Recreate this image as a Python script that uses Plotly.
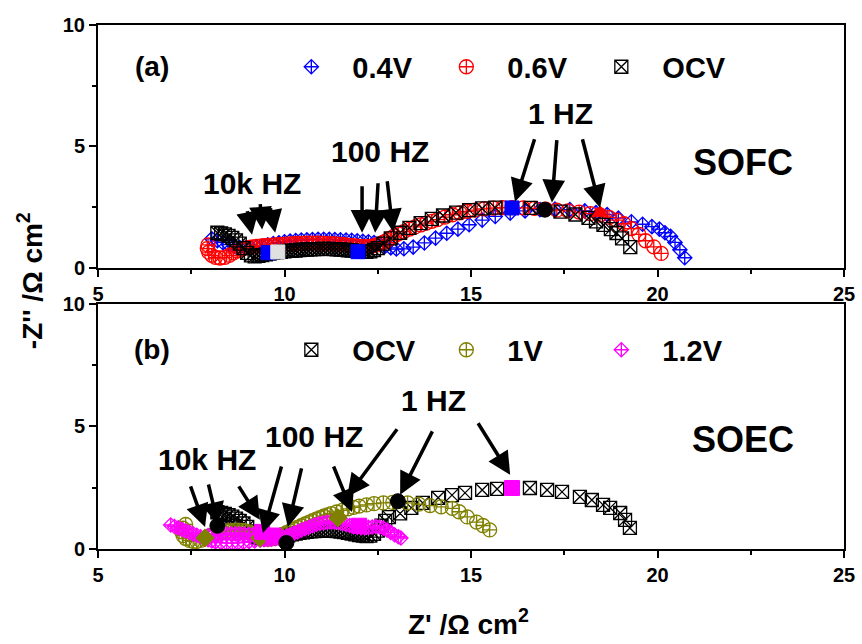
import plotly.graph_objects as go

# ---------------- data ----------------
# Panel (a) SOFC
ocv_a_x = [8.2, 8.3, 8.4, 8.5, 8.6, 8.7, 8.8, 8.9, 9.0, 9.1, 9.2, 9.3, 9.4, 9.5, 9.6, 9.7, 9.8, 9.9, 10.0, 10.1,
           10.2, 10.3, 10.4, 10.5, 10.6, 10.7, 10.8, 10.9, 11.0, 11.1, 11.2, 11.3, 11.4, 11.5, 11.6, 11.7, 11.8,
           11.9, 12.0, 12.1, 12.2, 12.3, 12.4, 12.5, 12.65, 12.85, 13.1, 13.35, 13.65, 13.95, 14.25, 14.6, 14.95,
           15.3, 15.65, 16.6, 17.4, 17.8, 18.15, 18.35, 18.55, 18.75, 18.9, 19.05, 19.27]
ocv_a_y = [1.45, 1.42, 1.38, 1.32, 1.24, 1.14, 1.0, 0.82, 0.62, 0.52, 0.48, 0.5, 0.53, 0.56, 0.59, 0.62, 0.64, 0.66,
           0.68, 0.7, 0.71, 0.72, 0.74, 0.75, 0.76, 0.77, 0.78, 0.78, 0.79, 0.79, 0.79, 0.78, 0.77, 0.76, 0.75,
           0.73, 0.72, 0.7, 0.68, 0.67, 0.66, 0.68, 0.74, 0.82, 1.0, 1.22, 1.45, 1.65, 1.85, 2.02, 2.16, 2.28,
           2.38, 2.45, 2.48, 2.47, 2.32, 2.2, 2.06, 1.92, 1.77, 1.6, 1.44, 1.22, 0.86]

v06_a_x = [7.95, 7.93, 7.97, 8.05, 8.15, 8.27, 8.4, 8.52, 8.63, 8.74, 8.85, 8.95, 9.05, 9.15, 9.25, 9.35, 9.45,
           9.55, 9.65, 9.75, 9.85, 9.95, 10.05, 10.15, 10.25, 10.35, 10.45, 10.55, 10.65, 10.75, 10.85, 10.95,
           11.05, 11.15, 11.25, 11.35, 11.45, 11.55, 11.65, 11.75, 11.85, 11.95, 12.05, 12.15, 12.25, 12.35,
           12.45, 12.55, 12.65, 12.75, 12.85, 12.95, 13.05, 13.2, 13.35, 13.5, 13.65, 13.8, 13.95, 14.1, 14.3,
           14.5, 14.7, 14.9, 15.1, 15.35, 15.6, 15.85, 16.1, 16.4, 16.7, 17.0, 17.3, 17.6, 17.9, 18.2, 18.46,
           18.7, 18.9, 19.1, 19.3, 19.5, 19.68, 19.9, 20.1]
v06_a_y = [0.95, 0.8, 0.65, 0.52, 0.44, 0.41, 0.44, 0.52, 0.62, 0.7, 0.77, 0.82, 0.85, 0.87, 0.89, 0.9, 0.92,
           0.93, 0.94, 0.95, 0.96, 0.97, 0.98, 0.99, 1.0, 1.01, 1.01, 1.02, 1.02, 1.02, 1.02, 1.02,
           1.01, 1.0, 1.0, 0.99, 0.98, 0.97, 0.95, 0.93, 0.92, 0.9, 0.89, 0.88, 0.88, 0.9,
           0.94, 0.99, 1.06, 1.14, 1.23, 1.32, 1.4, 1.5, 1.6, 1.69, 1.77, 1.85, 1.92, 1.99, 2.09,
           2.19, 2.27, 2.33, 2.38, 2.43, 2.46, 2.48, 2.48, 2.47, 2.45, 2.42, 2.38, 2.35, 2.3, 2.24, 2.18,
           2.08, 1.97, 1.82, 1.62, 1.38, 1.12, 0.87, 0.6]

v04_a_x = [8.05, 8.2, 8.35, 8.5, 8.65, 8.8, 8.95, 9.1, 9.25, 9.4, 9.55, 9.7, 9.85, 10.0, 10.15, 10.3, 10.45, 10.6,
           10.75, 10.9, 11.05, 11.2, 11.35, 11.5, 11.65, 11.8, 11.95, 12.1, 12.25, 12.4, 12.55, 12.7, 12.85,
           13.0, 13.2, 13.45, 13.75, 14.05, 14.35, 14.65, 14.95, 15.3, 15.65, 16.05, 16.45, 16.85, 17.25, 17.65,
           18.05, 18.35, 18.65, 18.95, 19.3, 19.6, 19.85, 20.05, 20.2, 20.35, 20.47, 20.6, 20.73]
v04_a_y = [1.2, 1.12, 1.04, 0.96, 0.89, 0.84, 0.82, 0.83, 0.86, 0.9, 0.95, 1.0, 1.04, 1.08, 1.11, 1.13, 1.15, 1.16,
           1.17, 1.18, 1.18, 1.18, 1.17, 1.16, 1.15, 1.14, 1.12, 1.1, 1.08, 1.05, 0.98, 0.9, 0.83,
           0.78, 0.79, 0.86, 1.03, 1.23, 1.43, 1.6, 1.78, 1.97, 2.12, 2.26, 2.35, 2.4, 2.42, 2.4,
           2.35, 2.28, 2.2, 2.05, 1.9, 1.8, 1.7, 1.6, 1.45, 1.3, 1.05, 0.75, 0.42]

# frequency markers (a)
mk_a_blue_x = [9.56, 11.97, 16.1]
mk_a_blue_y = [0.63, 0.67, 2.47]
mk_a_gray_x = [9.82]
mk_a_gray_y = [0.66]
mk_a_black_x = [16.98]
mk_a_black_y = [2.4]
mk_a_red_x = [18.46]
mk_a_red_y = [2.27]

# Panel (b) SOEC
ocv_b_x = [8.2, 8.3, 8.4, 8.5, 8.6, 8.7, 8.8, 8.9, 9.0, 9.1, 9.2, 9.3, 9.4, 9.5, 9.6, 9.7, 9.8, 9.9, 10.0, 10.1,
           10.2, 10.3, 10.4, 10.5, 10.6, 10.7, 10.8, 10.9, 11.0, 11.1, 11.2, 11.3, 11.4, 11.5, 11.6, 11.7, 11.8,
           11.9, 12.0, 12.1, 12.2, 12.3, 12.4, 12.5, 12.6, 12.7, 12.8, 13.1, 13.4, 13.71, 14.12, 14.49, 14.84,
           15.3, 15.7, 16.58, 17.04, 17.44, 17.92, 18.24, 18.54, 18.73, 19.0, 19.13, 19.26]
ocv_b_y = [1.5, 1.47, 1.43, 1.38, 1.32, 1.24, 1.15, 1.04, 0.9, 0.72, 0.56, 0.47, 0.43, 0.42, 0.43, 0.45, 0.47, 0.5,
           0.53, 0.56, 0.6, 0.63, 0.66, 0.68, 0.7, 0.72, 0.73, 0.74, 0.75, 0.75, 0.75, 0.74, 0.73, 0.71, 0.69,
           0.66, 0.63, 0.6, 0.57, 0.55, 0.53, 0.55, 0.62, 0.75, 0.95, 1.15, 1.3, 1.45, 1.68, 1.88, 2.09, 2.2,
           2.29, 2.41, 2.45, 2.49, 2.41, 2.33, 2.13, 2.0, 1.8, 1.68, 1.47, 1.19, 0.86]

v1_b_x = [7.35, 7.28, 7.25, 7.28, 7.35, 7.45, 7.55, 7.65, 7.75, 7.85, 7.95, 8.05, 8.15, 8.25, 8.35, 8.45, 8.55,
          8.65, 8.75, 8.85, 8.95, 9.05, 9.15, 9.25, 9.35, 9.45, 9.55, 9.65, 9.75, 9.85, 9.95, 10.05, 10.15,
          10.25, 10.35, 10.45, 10.55, 10.65, 10.75, 10.85, 10.95, 11.05, 11.15, 11.25, 11.4, 11.55, 11.7, 11.85,
          12.0, 12.2, 12.4, 12.65, 12.9, 13.3, 13.6, 13.9, 14.2, 14.5, 14.68, 14.9, 15.15, 15.32, 15.5]
v1_b_y = [1.0, 0.85, 0.7, 0.55, 0.43, 0.35, 0.31, 0.31, 0.35, 0.42, 0.5, 0.57, 0.62, 0.66, 0.7, 0.73, 0.75,
          0.76, 0.77, 0.76, 0.74, 0.7, 0.64, 0.55, 0.47, 0.41, 0.39, 0.41, 0.46, 0.53, 0.6, 0.67, 0.74,
          0.81, 0.88, 0.95, 1.02, 1.09, 1.16, 1.22, 1.28, 1.34, 1.39, 1.44, 1.51, 1.58, 1.64, 1.7,
          1.75, 1.8, 1.85, 1.88, 1.9, 1.88, 1.83, 1.77, 1.72, 1.66, 1.52, 1.31, 1.1, 0.96, 0.78]

v12_b_x = [6.95, 7.05, 7.15, 7.25, 7.35, 7.45, 7.55, 7.65, 7.75, 7.85, 7.95, 8.05, 8.15, 8.3, 8.45, 8.6,
           8.75, 8.9, 9.05, 9.2, 9.35, 9.45, 9.55, 9.65, 9.75, 9.85, 9.95, 10.05, 10.15,
           10.25, 10.35, 10.45, 10.55, 10.65, 10.75, 10.85, 10.95, 11.05, 11.15, 11.25, 11.35, 11.45, 11.55,
           11.65, 11.75, 11.85, 11.95, 12.05, 12.15, 12.25, 12.35, 12.45, 12.55, 12.65, 12.75, 12.85, 12.95,
           13.05, 13.12,
           7.95, 8.08, 8.2, 8.32, 8.44, 8.56, 8.68, 8.8, 8.92, 9.04, 9.16, 9.28]
v12_b_y = [0.98, 0.92, 0.86, 0.8, 0.74, 0.68, 0.62, 0.56, 0.5, 0.44, 0.38, 0.33, 0.29, 0.26, 0.24, 0.24,
           0.25, 0.27, 0.3, 0.33, 0.36, 0.38, 0.39, 0.4, 0.42, 0.45, 0.48, 0.53, 0.58,
           0.64, 0.7, 0.77, 0.83, 0.89, 0.95, 1.0, 1.04, 1.07, 1.09, 1.1, 1.09, 1.07, 1.04,
           1.0, 0.96, 0.92, 0.89, 0.87, 0.86, 0.88, 0.9, 0.92, 0.9, 0.85, 0.77, 0.68, 0.58,
           0.5, 0.45,
           0.55, 0.57, 0.58, 0.6, 0.61, 0.62, 0.62, 0.62, 0.61, 0.6, 0.58, 0.55]

# frequency markers (b)
mk_b_olive_x = [7.87, 9.34, 11.43]
mk_b_olive_y = [0.45, 0.45, 1.27]
mk_b_mag_x = [9.4, 9.7, 12.0, 16.1]
mk_b_mag_y = [0.7, 0.55, 0.95, 2.49]
mk_b_black_x = [8.2, 10.05, 13.04]
mk_b_black_y = [0.95, 0.25, 1.95]

FONT = "Liberation Sans, Arial, sans-serif"

fig = go.Figure()


def series(x, y, name, symbol, color, xa, ya, legend, size=13):
    fig.add_trace(go.Scatter(
        x=x, y=y, name=name, mode="markers", xaxis=xa, yaxis=ya, legend=legend,
        marker=dict(symbol=symbol, size=size, color=color, line=dict(color=color, width=1.3)),
    ))


def special(x, y, symbol, color, xa, ya, size=14):
    fig.add_trace(go.Scatter(
        x=x, y=y, mode="markers", xaxis=xa, yaxis=ya, showlegend=False,
        marker=dict(symbol=symbol, size=size, color=color, line=dict(color=color, width=1)),
    ))


# panel (a)
series(v04_a_x, v04_a_y, "0.4V", "diamond-cross-open", "#0000ff", "x", "y", "legend", 11)
series(v06_a_x, v06_a_y, "0.6V", "circle-cross-open", "#ff0000", "x", "y", "legend", 14)
series(ocv_a_x, ocv_a_y, "OCV", "square-x-open", "#000000", "x", "y", "legend", 13)
special(mk_a_blue_x, mk_a_blue_y, "square", "#0000ff", "x", "y")
special(mk_a_gray_x, mk_a_gray_y, "square", "#e0e0e0", "x", "y")
special(mk_a_black_x, mk_a_black_y, "circle", "#000000", "x", "y", 15)
special(mk_a_red_x, mk_a_red_y, "triangle-up", "#ff0000", "x", "y", 14)

# panel (b)
series(ocv_b_x, ocv_b_y, "OCV", "square-x-open", "#000000", "x2", "y2", "legend2", 13)
series(v1_b_x, v1_b_y, "1V", "circle-cross-open", "#808000", "x2", "y2", "legend2", 14)
series(v12_b_x, v12_b_y, "1.2V", "diamond-cross-open", "#ff00ff", "x2", "y2", "legend2", 11)
special(mk_b_olive_x, mk_b_olive_y, "diamond", "#808000", "x2", "y2", 14)
special(mk_b_mag_x, mk_b_mag_y, "square", "#ff00ff", "x2", "y2", 15)
special(mk_b_black_x, mk_b_black_y, "circle", "#000000", "x2", "y2", 15)

ax_common = dict(
    showline=True, linecolor="black", linewidth=2, mirror=True,
    ticks="outside", ticklen=7, tickwidth=2, tickcolor="black",
    showgrid=False, zeroline=False,
    tickfont=dict(family=FONT, size=20, color="black", weight="bold"),
    minor=dict(ticks="outside", ticklen=4, tickwidth=2, tickcolor="black", dtick=2.5, showgrid=False),
)

leg_common = dict(orientation="h", xanchor="left", yanchor="middle",
                  font=dict(family=FONT, size=29, color="black", weight="bold"),
                  itemwidth=72, entrywidth=68, entrywidthmode="pixels",
                  bgcolor="rgba(0,0,0,0)", traceorder="normal")

fig.update_layout(
    width=862, height=644,
    margin=dict(l=98, r=18, t=25, b=95, autoexpand=False),
    paper_bgcolor="white", plot_bgcolor="white",
    xaxis=dict(domain=[0, 1], range=[5, 25], dtick=5, anchor="y", **ax_common),
    yaxis=dict(domain=[0.5363, 1], range=[0, 10], dtick=5, anchor="x", **ax_common),
    xaxis2=dict(domain=[0, 1], range=[5, 25], dtick=5, anchor="y2", **ax_common),
    yaxis2=dict(domain=[0, 0.4676], range=[0, 10], dtick=5, anchor="x2", **ax_common),
    legend=dict(x=0.231, y=0.92, **leg_common),
    legend2=dict(x=0.231, y=0.38, **leg_common),
)

ann = []


def text(x, y, t, xr, yr, size=30):
    ann.append(dict(x=x, y=y, xref=xr, yref=yr, text=t, showarrow=False,
                    font=dict(family=FONT, size=size, color="black", weight="bold"),
                    xanchor="center", yanchor="middle"))


def arrow(x, y, ax, ay, xr, yr):
    ann.append(dict(x=x, y=y, xref=xr, yref=yr, ax=ax, ay=ay, text="", showarrow=True,
                    arrowhead=2, arrowsize=1.3, arrowwidth=3.5, arrowcolor="black", standoff=0))


# panel (a) labels
text(6.45, 8.28, "(a)", "x", "y", 28)
text(9.13, 3.47, "10k HZ", "x", "y")
text(12.56, 4.79, "100 HZ", "x", "y")
text(17.41, 6.35, "1 HZ", "x", "y")
text(22.29, 4.33, "SOFC", "x", "y", 36)
arrow(9.13, 1.37, -5, -25, "x", "y")
arrow(9.40, 1.58, -2, -27, "x", "y")
arrow(9.75, 1.45, -5, -26, "x", "y")
arrow(12.08, 1.45, 0, -48, "x", "y")
arrow(12.43, 1.45, 3, -51, "x", "y")
arrow(12.91, 1.49, -6, -52, "x", "y")
arrow(16.18, 2.73, 20, -64, "x", "y")
arrow(17.17, 2.69, 5, -64, "x", "y")
arrow(18.46, 2.48, -18, -70, "x", "y")

# panel (b) labels
text(6.45, 8.14, "(b)", "x2", "y2", 28)
text(7.92, 3.64, "10k HZ", "x2", "y2")
text(10.79, 4.58, "100 HZ", "x2", "y2")
text(14.0, 6.05, "1 HZ", "x2", "y2")
text(22.29, 4.46, "SOEC", "x2", "y2", 36)
arrow(7.87, 0.9, -15, -42, "x2", "y2")
arrow(8.22, 0.98, -10, -42, "x2", "y2")
arrow(9.34, 1.19, -22, -35, "x2", "y2")
arrow(9.42, 0.65, 19, -68, "x2", "y2")
arrow(10.09, 0.9, 14, -60, "x2", "y2")
arrow(11.81, 1.51, -19, -47, "x2", "y2")
arrow(11.68, 2.13, 51, -69, "x2", "y2")
arrow(13.1, 2.21, 33, -65, "x2", "y2")
arrow(16.05, 3.03, -33, -53, "x2", "y2")

# axis titles
ann.append(dict(x=-0.0912, y=0.513, xref="paper", yref="paper", text="-Z'' /Ω cm<sup>2</sup>",
                textangle=-90, showarrow=False, xanchor="center", yanchor="middle",
                font=dict(family=FONT, size=28, color="black", weight="bold")))
ann.append(dict(x=0.496, y=-0.139, xref="paper", yref="paper", text="Z' /Ω cm<sup>2</sup>",
                showarrow=False, xanchor="center", yanchor="middle",
                font=dict(family=FONT, size=28, color="black", weight="bold")))

fig.update_layout(annotations=ann)
fig.write_html("out.html")
